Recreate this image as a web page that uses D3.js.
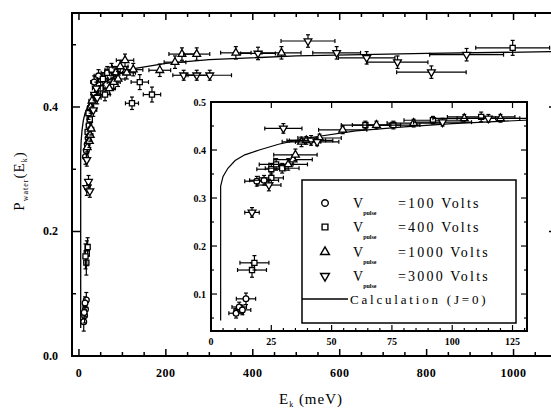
<!DOCTYPE html>
<html>
<head>
<meta charset="utf-8">
<script src="https://cdn.jsdelivr.net/npm/d3@7"></script>
<style>
  html, body { margin: 0; padding: 0; background: #fff; }
  svg { display: block; }
  text { font-family: "Liberation Serif", "DejaVu Serif", serif; fill: #000; }
</style>
</head>
<body>
<svg id="chart" width="551" height="413"></svg>
<script>
// ---------------- DATA ----------------
// main plot: [E_k (meV), P, dE, dP]
const main100 = [
  [11,0.055,3,0.015],[13,0.065,3,0.012],[15,0.075,3,0.012],[17,0.09,4,0.012],
  [14,0.085,3,0.01],[12,0.07,3,0.01],[15,0.32,4,0.012],[17,0.33,5,0.012],
  [19,0.34,5,0.012],[21,0.35,5,0.012],[35,0.44,8,0.01],[45,0.45,10,0.01]
];
const main400 = [
  [17,0.15,5,0.02],[18,0.165,5,0.02],[20,0.175,4,0.015],[15,0.16,4,0.02],
  [20,0.36,5,0.012],[23,0.37,6,0.012],[25,0.38,6,0.012],[22,0.39,6,0.01],
  [55,0.445,12,0.01],[65,0.455,14,0.01],[75,0.46,15,0.01],[50,0.43,10,0.01],
  [60,0.42,12,0.01],[122,0.406,15,0.01],[140,0.44,20,0.012],[168,0.42,20,0.012],
  [998,0.495,85,0.012]
];
const main1000 = [
  [27,0.40,7,0.01],[30,0.41,7,0.01],[19,0.335,5,0.01],[24,0.345,5,0.01],
  [26,0.355,6,0.01],[28,0.365,6,0.01],[85,0.455,15,0.01],[95,0.465,18,0.01],
  [106,0.475,20,0.01],[70,0.43,14,0.01],[80,0.44,15,0.012],[90,0.445,16,0.012],
  [110,0.455,20,0.01],[125,0.46,22,0.01],[186,0.459,25,0.01],[221,0.472,25,0.01],
  [237,0.485,30,0.01],[271,0.485,30,0.01],[361,0.487,35,0.01],[466,0.487,45,0.01]
];
const main3000 = [
  [18,0.27,5,0.012],[22,0.28,4,0.01],[25,0.265,4,0.01],[18,0.315,4,0.01],
  [33,0.395,8,0.01],[36,0.42,8,0.01],[40,0.43,9,0.01],[42,0.415,9,0.01],
  [241,0.451,25,0.008],[271,0.451,25,0.008],[301,0.451,50,0.008],[412,0.486,40,0.01],
  [527,0.506,62,0.01],[593,0.487,55,0.01],[662,0.479,65,0.01],[733,0.472,70,0.01],
  [811,0.456,80,0.01],[892,0.484,85,0.01]
];
// inset: [E_k (meV), P, dE, dP]
const inset100 = [
  [10.4,0.06,3,0.01],[11.7,0.073,3,0.01],[14.5,0.09,4,0.012],[13,0.067,3.5,0.01],
  [19,0.335,5,0.01],[22,0.337,6,0.01]
];
const inset400 = [
  [17,0.15,6,0.015],[18,0.165,6,0.015],[25,0.342,5,0.01],[25,0.36,6,0.012],
  [27,0.37,7,0.012],[29.5,0.362,7,0.01],[64,0.452,10,0.008],[75.6,0.452,11,0.008],
  [92,0.462,12,0.008],[112,0.469,14,0.01]
];
const inset1000 = [
  [32,0.37,8,0.012],[34,0.38,8,0.01],[35,0.39,9,0.012],[37.5,0.417,8,0.01],
  [39.5,0.42,8,0.008],[45,0.425,9,0.008],[54.6,0.442,10,0.008],[68.6,0.452,10,0.008],
  [84,0.456,11,0.008],[105,0.466,13,0.008],[120,0.466,14,0.008]
];
const inset3000 = [
  [17,0.27,3,0.01],[24,0.327,5,0.012],[30,0.445,7.7,0.01],[41.5,0.42,9,0.01],
  [44,0.417,9,0.008],[96,0.458,12,0.008],[115,0.466,13,0.008]
];
// calculation (J=0)
const calcE = [4,4,5,7,10,14,20,28,40,60,80,100,130,200,300,500,800,1100];
const calcP = [0.045,0.325,0.345,0.362,0.378,0.39,0.40,0.412,0.425,0.44,0.448,0.455,0.462,0.47,0.476,0.482,0.486,0.489];

// ticks
const mainXTicks = [0,200,400,600,800,1000];
const mainYTicks = [0.0,0.2,0.4];
const insetXTicks = [0,25,50,75,100,125];
const insetYTicks = [0.1,0.2,0.3,0.4,0.5];
const seriesNames = ["=100 Volts","=400 Volts","=1000 Volts","=3000 Volts"];

// ---------------- DRAW ----------------
const svg = d3.select("#chart");

const x = d3.scaleLinear().domain([-16,1100]).range([72,557]);
const y = d3.scaleLinear().domain([0,0.551]).range([356,13]);
const xi = d3.scaleLinear().domain([0,131]).range([211,527]);
const yi = d3.scaleLinear().domain([0.023,0.5]).range([331,102]);

const symTypes = [d3.symbolCircle, d3.symbolSquare, d3.symbolTriangle, d3.symbolTriangle];
function symPath(i, size) {
  return d3.symbol().type(symTypes[i]).size(size)();
}

function drawSeries(g, data, sx, sy, idx) {
  const cap = 2;
  data.forEach(d => {
    const cx = sx(d[0]), cy = sy(d[1]);
    const x0 = sx(d[0]-d[2]), x1 = sx(d[0]+d[2]);
    const y0 = sy(d[1]-d[3]), y1 = sy(d[1]+d[3]);
    const e = g.append("g").attr("stroke","#000").attr("stroke-width",1.2).attr("fill","none");
    e.append("line").attr("x1",x0).attr("x2",x1).attr("y1",cy).attr("y2",cy);
    e.append("line").attr("x1",x0).attr("x2",x0).attr("y1",cy-cap).attr("y2",cy+cap);
    e.append("line").attr("x1",x1).attr("x2",x1).attr("y1",cy-cap).attr("y2",cy+cap);
    e.append("line").attr("x1",cx).attr("x2",cx).attr("y1",y0).attr("y2",y1);
    e.append("line").attr("x1",cx-cap).attr("x2",cx+cap).attr("y1",y0).attr("y2",y0);
    e.append("line").attr("x1",cx-cap).attr("x2",cx+cap).attr("y1",y1).attr("y2",y1);
    g.append("path")
      .attr("d", symPath(idx, 26))
      .attr("transform", `translate(${cx},${cy})` + (idx===3 ? " rotate(180)" : ""))
      .attr("fill","#fff").attr("stroke","#000").attr("stroke-width",1.3);
  });
}

// main plot clip
svg.append("clipPath").attr("id","mainclip").append("rect")
  .attr("x",72).attr("y",13).attr("width",557-72).attr("height",356-13);
const gMain = svg.append("g").attr("clip-path","url(#mainclip)");

const line = (sx, sy) => d3.line().x((d,i)=>sx(calcE[i])).y((d,i)=>sy(calcP[i]));
gMain.append("path").datum(calcE).attr("d", line(x,y)).attr("fill","none")
  .attr("stroke","#000").attr("stroke-width",1.3);

[main100, main400, main1000, main3000].forEach((s,i)=>drawSeries(gMain, s, x, y, i));

// main axes frame
svg.append("rect").attr("x",72).attr("y",13).attr("width",557-72).attr("height",356-13)
  .attr("fill","none").attr("stroke","#000").attr("stroke-width",2);

// main ticks (inward)
const gAx = svg.append("g").attr("stroke","#000").attr("stroke-width",1.5);
d3.range(0,1101,50).forEach(v=>{
  const major = v % 200 === 0;
  const len = major ? 7 : 4;
  gAx.append("line").attr("x1",x(v)).attr("x2",x(v)).attr("y1",356).attr("y2",356-len);
  gAx.append("line").attr("x1",x(v)).attr("x2",x(v)).attr("y1",13).attr("y2",13+len);
});
d3.range(0,0.55,0.1).forEach(v=>{
  const major = Math.round(v*10) % 2 === 0;
  const len = major ? 8 : 4;
  gAx.append("line").attr("x1",72).attr("x2",72+len).attr("y1",y(v)).attr("y2",y(v));
  gAx.append("line").attr("x1",557).attr("x2",557-len).attr("y1",y(v)).attr("y2",y(v));
});

svg.append("g").selectAll("text").data(mainXTicks).join("text")
  .attr("x",d=>x(d)).attr("y",377).attr("text-anchor","middle")
  .attr("font-size",12).attr("font-weight","bold").attr("letter-spacing",0.5)
  .text(d=>d);
svg.append("g").selectAll("text").data(mainYTicks).join("text")
  .attr("x",58).attr("y",d=>y(d)+4).attr("text-anchor","end")
  .attr("font-size",12).attr("font-weight","bold")
  .text(d=>d.toFixed(1));

// axis titles
const xt = svg.append("text").attr("x",311).attr("y",404).attr("text-anchor","middle")
  .attr("font-size",15).attr("letter-spacing",1);
xt.append("tspan").text("E");
xt.append("tspan").attr("font-size",8).attr("dy",3).text("k");
xt.append("tspan").attr("dy",-3).text(" (meV)");

const yt = svg.append("text").attr("transform","translate(24,181) rotate(-90)")
  .attr("text-anchor","middle").attr("font-size",15).attr("letter-spacing",1);
yt.append("tspan").text("P");
yt.append("tspan").attr("font-size",8).attr("dy",4).text("water");
yt.append("tspan").attr("dy",-4).text("(E");
yt.append("tspan").attr("font-size",8).attr("dy",3).text("k");
yt.append("tspan").attr("dy",-3).text(")");

// ---------------- INSET ----------------
svg.append("rect").attr("x",211).attr("y",102).attr("width",527-211).attr("height",331-102)
  .attr("fill","#fff");
svg.append("clipPath").attr("id","insclip").append("rect")
  .attr("x",211).attr("y",102).attr("width",527-211).attr("height",331-102);
const gIn = svg.append("g").attr("clip-path","url(#insclip)");
gIn.append("path").datum(calcE).attr("d", line(xi,yi)).attr("fill","none")
  .attr("stroke","#000").attr("stroke-width",1.2);
[inset100, inset400, inset1000, inset3000].forEach((s,i)=>drawSeries(gIn, s, xi, yi, i));

svg.append("rect").attr("x",211).attr("y",102).attr("width",527-211).attr("height",331-102)
  .attr("fill","none").attr("stroke","#000").attr("stroke-width",2);

const gIa = svg.append("g").attr("stroke","#000").attr("stroke-width",1.2);
d3.range(0,131,5).forEach(v=>{
  const major = v % 25 === 0;
  const len = major ? 6 : 3;
  gIa.append("line").attr("x1",xi(v)).attr("x2",xi(v)).attr("y1",331).attr("y2",331-len);
  if (major) gIa.append("line").attr("x1",xi(v)).attr("x2",xi(v)).attr("y1",102).attr("y2",102+len);
});
d3.range(0.05,0.501,0.05).forEach(v=>{
  const major = Math.round(v*100) % 10 === 0;
  const len = major ? 6 : 3;
  gIa.append("line").attr("x1",211).attr("x2",211+len).attr("y1",yi(v)).attr("y2",yi(v));
  gIa.append("line").attr("x1",527).attr("x2",527-len).attr("y1",yi(v)).attr("y2",yi(v));
});

svg.append("g").selectAll("text").data(insetXTicks).join("text")
  .attr("x",d=>xi(d)).attr("y",345).attr("text-anchor","middle")
  .attr("font-size",10).attr("font-weight","bold").text(d=>d);
svg.append("g").selectAll("text").data(insetYTicks).join("text")
  .attr("x",206).attr("y",d=>yi(d)+4).attr("text-anchor","end")
  .attr("font-size",10).attr("font-weight","bold").text(d=>d.toFixed(1));

// ---------------- LEGEND ----------------
svg.append("rect").attr("x",302).attr("y",180).attr("width",516-302).attr("height",323-180)
  .attr("fill","#fff").attr("stroke","#000").attr("stroke-width",1.5);
const legY = [203,227,252,276];
seriesNames.forEach((nm,i)=>{
  svg.append("path").attr("d", symPath(i, 34))
    .attr("transform", `translate(325,${legY[i]})` + (i===3 ? " rotate(180)" : ""))
    .attr("fill","#fff").attr("stroke","#000").attr("stroke-width",1.4);
  const t = svg.append("text").attr("x",353).attr("y",legY[i]+5).attr("font-size",14);
  t.append("tspan").text("V");
  t.append("tspan").attr("font-size",6).attr("dy",7).attr("font-weight","bold").text("pulse");
  t.append("tspan").attr("x",398).attr("dy",-7).attr("letter-spacing",2.2).text(nm);
});
svg.append("line").attr("x1",302).attr("x2",348).attr("y1",299).attr("y2",299)
  .attr("stroke","#000").attr("stroke-width",1.3);
svg.append("text").attr("x",350).attr("y",304).attr("font-size",13).attr("letter-spacing",2.8)
  .text("Calculation (J=0)");
</script>
</body>
</html>
